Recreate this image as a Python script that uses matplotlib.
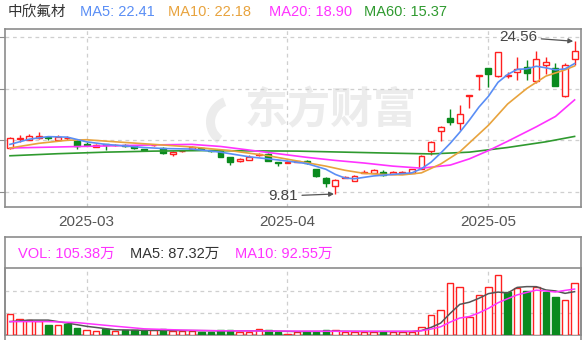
import numpy as np
import matplotlib.pyplot as plt
from matplotlib.patches import Wedge
from matplotlib.transforms import IdentityTransform

plt.rcParams['font.family'] = ['Liberation Sans', 'Noto Sans CJK SC', 'DejaVu Sans']

# daily candles, 2025-02-19 .. 2025-05-19
opens = [14.22, 15.15, 15.02, 15.25, 15.30, 15.05, 15.20, 14.93, 14.62, 14.35,
         14.60, 14.50, 14.55, 14.40, 14.15, 14.50, 14.22, 13.68, 13.95, 14.15,
         14.25, 14.05, 14.00, 13.35, 12.95, 13.10, 13.55, 13.64, 12.90, 12.85,
         12.90, 13.00, 12.20, 11.40, 10.58, 11.38, 11.10, 11.80, 11.88, 11.95,
         11.75, 11.85, 11.87, 12.22, 13.95, 15.85, 17.15, 16.67, 19.25, 21.20,
         21.98, 21.20, 21.20, 21.60, 22.05, 20.70, 22.25, 21.98, 19.25, 22.88]
highs = [15.34, 15.50, 15.60, 15.83, 15.35, 15.55, 15.45, 15.10, 14.80, 14.60,
         14.62, 14.65, 14.60, 14.45, 14.20, 14.65, 14.30, 13.95, 14.05, 14.45,
         14.35, 14.10, 14.05, 13.40, 13.25, 13.55, 13.80, 13.75, 12.92, 12.98,
         13.00, 13.05, 12.25, 11.45, 11.25, 11.50, 11.60, 12.10, 12.20, 12.10,
         12.00, 12.00, 12.25, 13.55, 14.95, 16.40, 18.00, 18.40, 19.33, 21.26,
         22.00, 23.55, 21.60, 23.00, 22.80, 23.65, 23.00, 22.45, 22.50, 24.56]
lows = [14.20, 14.85, 15.00, 15.15, 15.05, 15.00, 15.00, 14.20, 14.40, 14.30,
        14.10, 14.45, 14.38, 14.15, 14.00, 14.40, 13.65, 13.50, 13.85, 14.10,
        14.10, 13.85, 13.35, 12.60, 12.90, 13.05, 13.50, 12.95, 12.50, 12.80,
        12.88, 12.75, 11.45, 10.50, 9.81, 11.35, 11.05, 11.80, 11.85, 11.55,
        11.70, 11.80, 11.85, 12.20, 13.60, 14.90, 16.50, 16.00, 18.10, 19.90,
        20.10, 21.10, 21.00, 20.80, 20.85, 20.50, 21.40, 20.20, 19.20, 22.30]
closes = [15.19, 15.22, 15.38, 15.45, 15.20, 15.30, 15.22, 14.45, 14.50, 14.55,
          14.50, 14.56, 14.45, 14.25, 14.08, 14.55, 13.75, 13.88, 13.97, 14.37,
          14.20, 14.00, 13.42, 12.93, 13.20, 13.35, 13.65, 13.00, 12.85, 12.92,
          12.95, 12.78, 11.50, 10.85, 11.16, 11.45, 11.55, 11.95, 12.12, 11.65,
          11.95, 11.98, 12.20, 13.48, 14.80, 16.28, 16.73, 17.57, 19.33, 21.26,
          21.40, 23.50, 21.35, 21.90, 21.50, 22.88, 22.55, 20.20, 22.30, 23.65]
# volume in 万手
volumes = [41.7, 31.6, 29.6, 28.2, 19.5, 19.5, 22.8, 14.8, 9.4, 8.0,
           11.4, 8.0, 9.4, 9.4, 9.4, 9.4, 12.8, 8.0, 8.0, 8.0,
           6.7, 5.4, 10.0, 10.0, 6.7, 6.7, 11.4, 9.4, 5.4, 2.7,
           6.0, 6.0, 6.0, 10.0, 10.0, 6.7, 6.7, 6.7, 6.7, 6.7,
           6.7, 6.7, 6.7, 16.8, 39.6, 49.7, 105.0, 97.3, 36.9, 80.6,
           97.3, 120.2, 87.3, 94.0, 88.7, 96.7, 87.3, 77.2, 69.8, 105.38]

# moving-average lines (candle index, value)
ma5_idx = [0, 2, 4, 6, 8, 10, 12, 14, 16, 19, 22, 25, 28, 31, 33, 34, 35, 36, 38, 40,
           42, 43, 44, 45, 46, 47, 48, 49, 50, 51, 52, 53, 54, 55, 56, 57, 58, 59]
ma5_val = [14.6, 15.1, 15.35, 15.3, 14.85, 14.6, 14.45, 14.3, 14.2, 14.15, 13.85, 13.4,
           13.1, 12.75, 12.2, 11.7, 11.35, 11.28, 11.55, 11.7, 11.85, 12.25, 12.88, 13.75,
           14.7, 15.77, 16.94, 18.2, 19.25, 20.6, 21.35, 21.85, 21.9, 22.15, 22.0, 21.8,
           21.9, 22.41]
ma10_idx = [0, 3, 6, 8, 11, 15, 19, 23, 27, 30, 33, 35, 37, 39, 41, 43, 45, 47, 50, 52,
            54, 56, 58, 59]
ma10_val = [14.25, 14.7, 15.0, 15.05, 14.85, 14.6, 14.35, 14.0, 13.5, 13.0, 12.5, 12.1,
            11.8, 11.7, 11.65, 11.85, 12.7, 13.88, 16.45, 18.5, 20.0, 21.2, 21.8, 22.18]
ma20_idx = [0, 5, 10, 15, 19, 22, 25, 28, 31, 34, 37, 40, 43, 46, 48, 50, 52, 55, 57, 59]
ma20_val = [14.25, 14.35, 14.45, 14.55, 14.6, 14.4, 14.05, 13.7, 13.35, 13.05, 12.8,
            12.5, 12.3, 12.6, 13.2, 14.0, 14.9, 16.3, 17.3, 18.9]
ma60_idx = [0, 5, 10, 15, 20, 30, 40, 44, 48, 52, 56, 59]
ma60_val = [13.5, 13.7, 13.85, 13.95, 14.0, 13.95, 13.75, 13.68, 13.85, 14.3, 14.85, 15.37]

vma5_idx = [0, 2, 4, 6, 8, 11, 14, 18, 22, 26, 30, 34, 38, 42, 43, 44, 45, 46, 47, 48,
            49, 50, 51, 52, 53, 54, 55, 56, 57, 58, 59]
vma5_val = [27, 30, 30, 24, 17.5, 10.5, 9.5, 9.0, 8.5, 8.5, 7.0, 7.5, 7.0, 7.0, 9.0,
            15.3, 23.9, 43.6, 61.7, 66.0, 73.9, 83.4, 86.5, 84.5, 95.9, 97.5, 97.4,
            90.8, 88.8, 83.9, 87.32]
vma10_idx = [0, 4, 7, 10, 14, 18, 22, 28, 35, 42, 43, 44, 45, 46, 47, 48, 49, 50, 51,
             52, 53, 54, 55, 56, 57, 58, 59]
vma10_val = [27, 27, 25, 19.5, 12.5, 10, 8.5, 8.0, 7.5, 7.5, 8.5, 12, 16.5, 26, 34.2,
             37.2, 44.6, 53.7, 65.0, 73.1, 80.8, 85.7, 90.4, 88.6, 86.6, 89.9, 92.55]

month_idx = [8, 29, 50]
month_labels = ['2025-03', '2025-04', '2025-05']

RED = '#ff2020'
GREEN = '#0a8a1e'
GRID = '#cfcfcf'
FRAME = '#8c8c8c'

W, H = 584, 340


def box(l, t, r, b):
    return [l / W, 1 - b / H, (r - l) / W, (b - t) / H]


fig = plt.figure(figsize=(W / 100, H / 100), dpi=100)

# ---------------- price panel ----------------
ax = fig.add_axes(box(5, 29, 581, 207))
n = len(closes)
x = np.arange(n)
o = np.array(opens)
c = np.array(closes)
up = c >= o

ax.vlines(x, lows, highs, colors=[RED if u else GREEN for u in up], lw=1, zorder=2)
body_lo = np.minimum(o, c)
body_h = np.maximum(np.abs(c - o), 0.04)
ax.bar(x, body_h, bottom=body_lo, width=0.62,
       color=['white' if u else GREEN for u in up],
       edgecolor=[RED if u else GREEN for u in up], linewidth=1, zorder=3)

ax.plot(ma60_idx, ma60_val, color='#2f9a2f', lw=1.2, zorder=4)
ax.plot(ma20_idx, ma20_val, color='#ff33ff', lw=1.2, zorder=4)
ax.plot(ma10_idx, ma10_val, color='#e8a33d', lw=1.2, zorder=4)
ax.plot(ma5_idx, ma5_val, color='#5a8ef5', lw=1.2, zorder=4)

ax.set_xlim(-0.52, 59.67)
ax.set_ylim(8.55, 25.75)
ax.set_yticks([10, 15, 20, 25])
ax.set_yticklabels([])
ax.set_xticks(month_idx, month_labels)
ax.tick_params(axis='x', length=0, pad=6, labelsize=11, labelcolor='#555555')
ax.tick_params(axis='y', length=4, color=FRAME)
ax.grid(True, color=GRID, ls=(0, (3, 3)), lw=0.9, zorder=0)
for s in ax.spines.values():
    s.set_color(FRAME)
    s.set_linewidth(1.2)

# watermark: swoosh logo + name
ax.add_patch(Wedge((232, 218), 26, 110, 235, width=9, transform=IdentityTransform(),
                   facecolor='#ececec', edgecolor='none', zorder=1))
ax.text(0.565, 0.54, '东方财富', transform=ax.transAxes, fontsize=31,
        fontweight='bold', color='#ececec', ha='center', va='center',
        family=['Noto Sans CJK SC'], zorder=1)

# high / low annotations
hi = int(np.argmax(highs))
lo = int(np.argmin(lows))
arrow = dict(arrowstyle='-|>', color='#555555', lw=0.9, mutation_scale=7,
             shrinkA=1, shrinkB=1)
ax.annotate(f'{highs[hi]:.2f}', xy=(hi, highs[hi]), xytext=(-27, 3),
            textcoords='offset points', ha='right', va='center', fontsize=11,
            color='#444444', arrowprops=arrow, zorder=6)
ax.annotate(f'{lows[lo]:.2f}', xy=(lo, lows[lo]), xytext=(-27, -1.5),
            textcoords='offset points', ha='right', va='center', fontsize=11,
            color='#444444', arrowprops=arrow, zorder=6)

# header legend
fig.text(8 / W, 1 - 12 / H, '中欣氟材', fontsize=10.5, color='#333333', va='center')
fig.text(80 / W, 1 - 12 / H, 'MA5: 22.41', fontsize=10.5, color='#5a8ef5', va='center')
fig.text(168 / W, 1 - 12 / H, 'MA10: 22.18', fontsize=10.5, color='#e8a33d', va='center')
fig.text(269 / W, 1 - 12 / H, 'MA20: 18.90', fontsize=10.5, color='#ff33ff', va='center')
fig.text(364 / W, 1 - 12 / H, 'MA60: 15.37', fontsize=10.5, color='#2f9a2f', va='center')

# ---------------- volume panel ----------------
frame = fig.add_axes(box(5, 237, 581, 346))
frame.set_xticks([])
frame.set_yticks([])
for s in frame.spines.values():
    s.set_color(FRAME)
    s.set_linewidth(1.2)

vax = fig.add_axes(box(5, 268, 581, 335))
vax.patch.set_alpha(0)
prev = np.concatenate([[opens[0]], closes[:-1]])
vup = c >= prev
vax.bar(x, volumes, width=0.68, color=['white' if u else GREEN for u in vup],
        edgecolor=[RED if u else GREEN for u in vup], linewidth=1, zorder=3)
vax.plot(vma5_idx, vma5_val, color='#555555', lw=1.1, zorder=4)
vax.plot(vma10_idx, vma10_val, color='#ff33ff', lw=1.1, zorder=4)
vax.set_xlim(-0.52, 59.67)
vax.set_ylim(0, 135)
vax.set_yticks([44.3, 88.7])
vax.set_xticks(month_idx)
vax.set_xticklabels([])
vax.set_yticklabels([])
vax.tick_params(length=0)
vax.grid(True, color=GRID, ls=(0, (3, 3)), lw=0.9, zorder=0)
for s in vax.spines.values():
    s.set_color(FRAME)
    s.set_linewidth(1.2)

fig.text(18 / W, 1 - 254 / H, 'VOL: 105.38万', fontsize=10.5, color='#ff33ff', va='center')
fig.text(130 / W, 1 - 254 / H, 'MA5: 87.32万', fontsize=10.5, color='#333333', va='center')
fig.text(235 / W, 1 - 254 / H, 'MA10: 92.55万', fontsize=10.5, color='#ff33ff', va='center')

fig.savefig('out.png', dpi=100)
